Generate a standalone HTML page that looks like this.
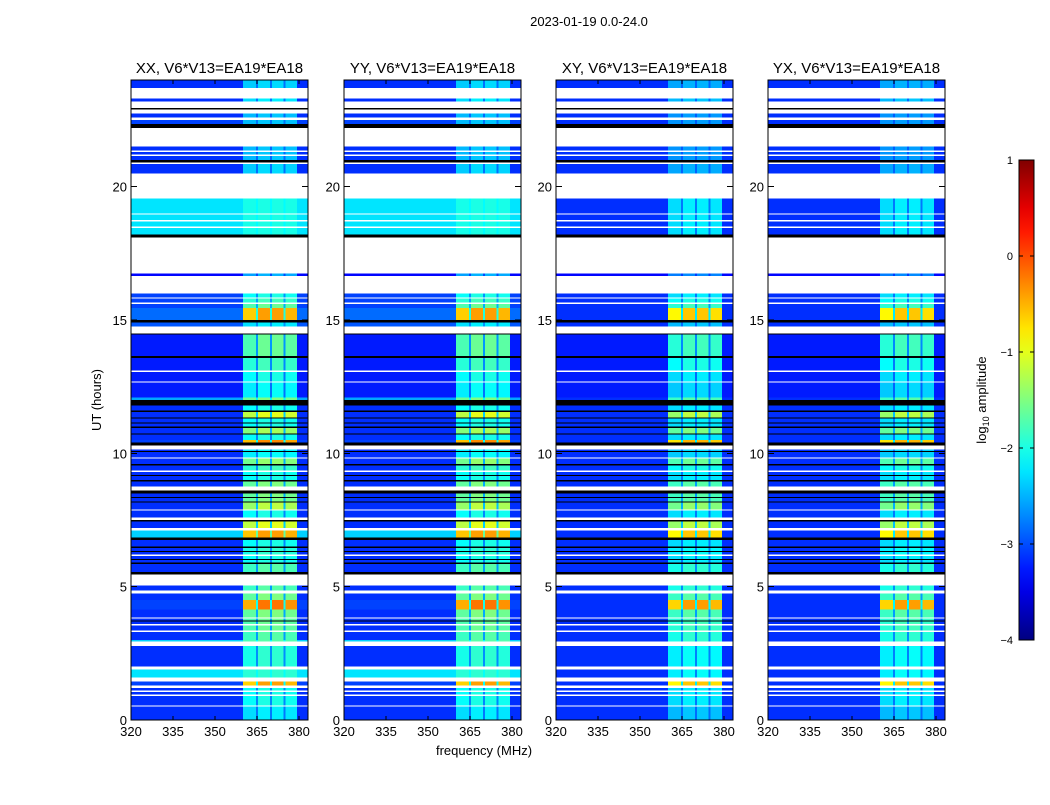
<!DOCTYPE html>
<html><head><meta charset="utf-8">
<style>
html,body{margin:0;padding:0;background:#fff;}
body{width:1050px;height:800px;overflow:hidden;font-family:"Liberation Sans",sans-serif;}
svg text{font-family:"Liberation Sans",sans-serif;}
</style></head>
<body>
<svg id="fig" width="1050" height="800" viewBox="0 0 1050 800" xmlns="http://www.w3.org/2000/svg" shape-rendering="crispEdges">
<text x="589" y="26" font-size="13" text-anchor="middle">2023-01-19 0.0-24.0</text>
<text x="484" y="755" font-size="13" text-anchor="middle">frequency (MHz)</text>
<text x="101" y="400" font-size="13" text-anchor="middle" transform="rotate(-90 101 400)">UT (hours)</text>
<g id="panels"></g>
<g id="cbar"></g>
</svg>
<script>
// ---- data ----
const panelTitles = ["XX, V6*V13=EA19*EA18","YY, V6*V13=EA19*EA18","XY, V6*V13=EA19*EA18","YX, V6*V13=EA19*EA18"];
const crossPol = [false,false,true,true];
const xTicks = [320,335,350,365,380];
const yTicks = [0,5,10,15,20];
const cbTicks = [1,0,-1,-2,-3,-4];
// frequency bright-channel blocks (MHz)
const chanStart = [360,365.4,370.4,375.2];
const chanEnd = [364.6,369.6,374.4,379.2];
const chanGain = [0.9,1.0,1.0,0.95];
// valid data time spans (hours) with log10 background and channel peak
const dataStart = [23.7,23.2,22.6,22.35,21.35, 21.2,21.0,20.5,19.0,18.75, 18.5,18.2,16.65,15.85,15.65, 15.45,15.0,14.75,13.65,13.1, 12.7,12.1,12.0,11.6,11.35, 11.0,10.75,10.5,10.4,9.85, 9.6,9.35,9.0,8.75,8.2, 7.9,7.6,7.2,6.85,6.5, 6.2,5.9,5.55,4.85,4.5, 4.15,3.85,3.6,3.35,3.0, 2.95,2.0,1.6,1.3,1.1, 0.95,0.55,0];
const dataEnd   = [24,23.3,22.75,22.5,21.5, 21.3,21.15,20.85,19.55,18.95, 18.7,18.45,16.75,16.0,15.8, 15.6,15.45,14.9,14.45,13.58, 13.05,12.65,12.1,11.8,11.55, 11.3,10.95,10.7,10.5,10.15, 9.8,9.55,9.3,8.95,8.5, 8.15,7.85,7.45,7.1,6.75, 6.45,6.15,5.85,5.05,4.75, 4.5,4.15,3.8,3.55,3.3, 3.0,2.77,1.9,1.45,1.2, 1.05,0.9,0.5];
const dataBg    = [-3.1,-3.1,-3.1,-3.0,-3.1, -3.1,-3.1,-3.1,-2.2,-2.2, -2.2,-2.2,-3.3,-3.0,-3.0, -3.0,-2.8,-2.9,-3.2,-3.2, -3.2,-3.2,-2.5,-3.1,-3.1, -3.1,-3.1,-3.1,-3.0,-3.1, -3.1,-3.1,-3.1,-3.1,-3.1, -3.1,-3.1,-3.1,-2.3,-3.1, -3.1,-3.1,-3.1,-3.1,-3.1, -3.0,-3.1,-3.1,-3.1,-3.1, -2.3,-3.1,-2.2,-3.0,-3.1, -3.1,-3.1,-3.1];
const dataPeak  = [-2.3,-2.2,-2.4,-2.4,-2.4, -2.4,-2.4,-2.3,-2.0,-2.0, -2.0,-2.0,-2.5,-2.0,-1.8, -1.6,-0.4,-2.2,-1.6,-1.8, -2.0,-2.1,-1.5,-2.0,-1.0, -2.0,-1.3,-2.0,-0.3,-2.1, -1.4,-1.8,-2.0,-1.5,-1.5, -1.2,-2.0,-1.0,-0.4,-2.0, -1.9,-2.0,-1.7,-1.7,-1.5, -0.2,-1.5,-1.6,-1.6,-1.7, -1.7,-1.9,-1.9,-0.4,-2.0, -2.0,-2.0,-2.2];
// fully flagged (black) rows
const blackStart = [22.9,22.2,20.9,18.1,14.9,14.45,13.58,11.8,11.55,11.3,11.12,10.95,10.7,10.3,10.05,9.55,9.15,8.95,8.5,8.33,8.15,7.45,6.75,6.45,6.3,6.0,5.85,5.45,3.7];
const blackEnd   = [22.95,22.35,21.0,18.2,15.0,14.5,13.65,12.0,11.6,11.35,11.16,11.0,10.75,10.4,10.09,9.6,9.19,9.0,8.6,8.37,8.2,7.5,6.85,6.5,6.34,6.04,5.9,5.55,3.74];

// ---- layout ----
const panelLeft = [131,344,556,768];
const panelW = 177, plotTop = 80, plotBot = 720;
const fMin = 320, fMax = 383.2, tMin = 0, tMax = 24;
const NS = "http://www.w3.org/2000/svg";
function el(tag, attrs, parent){const e=document.createElementNS(NS,tag);for(const k in attrs)e.setAttribute(k,attrs[k]);parent.appendChild(e);return e;}
function jet(v){let x=(v+4)/5;x=Math.max(0,Math.min(1,x));const c=t=>Math.round(255*Math.max(0,Math.min(1,1.5-Math.abs(4*x-t))));return `rgb(${c(3)},${c(2)},${c(1)})`;}
function yScale(h){return plotBot-(h-tMin)/(tMax-tMin)*(plotBot-plotTop);}

const panels = document.getElementById('panels');
panelLeft.forEach((x0,p)=>{
  const xScale = f => x0+(f-fMin)/(fMax-fMin)*panelW;
  const g = el('g',{},panels);
  
  
  const t = el('text',{x:x0+panelW/2,y:73,'font-size':15,'text-anchor':'middle'},g);
  t.textContent = panelTitles[p];
  
  
  for(let i=0;i<dataStart.length;i++){
    const y1=yScale(dataEnd[i]), y2=yScale(dataStart[i]);
    const h=Math.max(0.8,y2-y1);
    let bg=dataBg[i], pk=dataPeak[i];
    if(crossPol[p]){ bg=Math.min(bg,-3.1); pk=pk-0.2; }
    const r=el('rect',{x:x0,y:y1,width:panelW,height:h,fill:jet(bg-0.05)},g);
    
    
    const mid=el('rect',{x:xScale(chanStart[0]),y:y1,width:xScale(chanEnd[3])-xScale(chanStart[0]),height:h,fill:jet(bg+(pk-bg)*0.35)},g);
    
    
    for(let c=0;c<chanStart.length;c++){
      const v=bg+(pk-bg)*chanGain[c];
      const cell=el('rect',{x:xScale(chanStart[c]),y:y1,width:xScale(chanEnd[c])-xScale(chanStart[c]),height:h,fill:jet(v)},g);
      
      
    }
  }
  for(let i=0;i<blackStart.length;i++){
    const y1=yScale(blackEnd[i]), y2=yScale(blackStart[i]);
    const r=el('rect',{x:x0,y:y1,width:panelW,height:Math.max(1,y2-y1),fill:'#000'},g);
    
    
  }
  const frame=el('rect',{x:x0,y:plotTop,width:panelW,height:plotBot-plotTop,fill:'none',stroke:'#000','stroke-width':1},g);
  
  
  xTicks.forEach(f=>{
    const x=xScale(f);
    el('line',{x1:x,x2:x,y1:plotBot,y2:plotBot-4,stroke:'#000'},g);
    el('line',{x1:x,x2:x,y1:plotTop,y2:plotTop+4,stroke:'#000'},g);
    const tl=el('text',{x:x,y:plotBot+16,'font-size':13,'text-anchor':'middle'},g);
    tl.textContent=f;
    
    
  });
  yTicks.forEach(v=>{
    const y=yScale(v);
    el('line',{x1:x0,x2:x0+6,y1:y,y2:y,stroke:'#000'},g);
    el('line',{x1:x0+panelW,x2:x0+panelW-6,y1:y,y2:y,stroke:'#000'},g);
    const tl=el('text',{x:x0-4,y:y+5,'font-size':13,'text-anchor':'end'},g);
    tl.textContent=v;
    
    
  });
});

// colorbar
const cb=document.getElementById('cbar');
const cbX=1019, cbW=15, cbTop=160, cbBot=640;
const defs=el('defs',{},cb);
const grad=el('linearGradient',{id:'jetgrad',x1:0,y1:1,x2:0,y2:0},defs);
for(let i=0;i<=20;i++){el('stop',{offset:i/20,'stop-color':jet(-4+5*i/20)},grad);}
const bar=el('rect',{x:cbX,y:cbTop,width:cbW,height:cbBot-cbTop,fill:'url(#jetgrad)',stroke:'#000'},cb);


cbTicks.forEach(v=>{
  const y=cbBot-(v+4)/5*(cbBot-cbTop);
  el('line',{x1:cbX,x2:cbX+4,y1:y,y2:y,stroke:'#000'},cb);
  el('line',{x1:cbX+cbW,x2:cbX+cbW-4,y1:y,y2:y,stroke:'#000'},cb);
  const tl=el('text',{x:cbX-6,y:y+4,'font-size':11,'text-anchor':'end'},cb);
  tl.textContent=v<0?'\u2212'+Math.abs(v):v;
  
  
});
const cl=el('text',{x:986,y:400,'font-size':13,'text-anchor':'middle',transform:'rotate(-90 986 400)'},cb);
cl.innerHTML='log<tspan font-size="9" dy="3">10</tspan><tspan dy="-3"> amplitude</tspan>';


</script>
</body></html>
